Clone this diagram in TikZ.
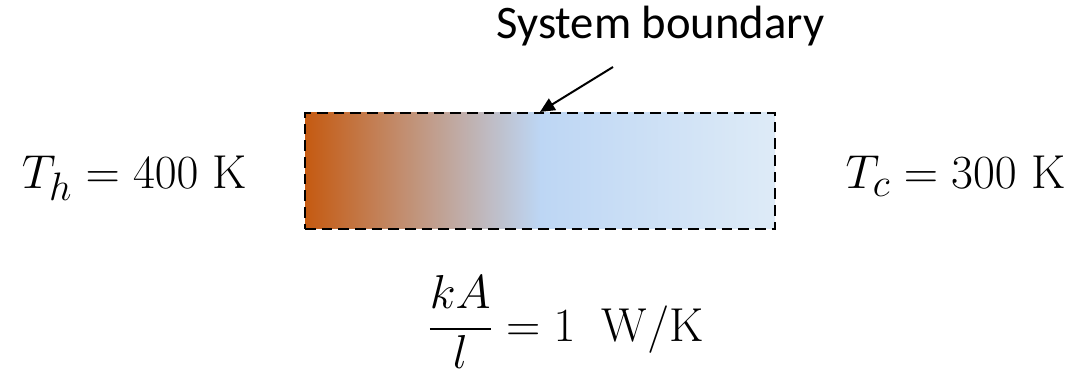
\documentclass[tikz,border=0pt]{standalone}
\usepackage{amsmath}
\usepackage{graphicx}
\usepackage{fontspec}
\newfontfamily\calibri{Carlito}
\usetikzlibrary{arrows.meta}
\definecolor{hotc}{RGB}{197,90,17}
\definecolor{midc}{RGB}{189,214,244}
\definecolor{coldc}{RGB}{222,235,247}
\pgfdeclarehorizontalshading{barshade}{100bp}{color(0bp)=(hotc); color(25bp)=(hotc); color(50bp)=(midc); color(75bp)=(coldc); color(100bp)=(coldc)}
\newcommand{\bigmath}[1]{\scalebox{1.435}{\Huge #1}}
\tikzset{
  mathtxt/.style={inner sep=0pt},
  titletxt/.style={inner sep=0pt, font=\calibri\fontsize{35}{42}\selectfont},
  boundary/.style={draw=black, line width=1.6pt, dash pattern=on 8pt off 4.5pt, shading=barshade, inner sep=0pt, minimum width=352.5pt, minimum height=87pt},
  pointer/.style={draw=black, line width=1.5pt, -{Triangle[length=11pt,width=10pt]}}
}
\begin{document}
\begin{tikzpicture}[x=0.75pt, y=-0.75pt]
\useasboundingbox (0,0) rectangle (1079,374);
\node[boundary] (box) at (540,171) {};
\node[titletxt, anchor=base] (title) at (660.5,39) {System boundary};
\coordinate (tail) at (613,67);
\draw[pointer] (tail) -- (box.north);
\node[mathtxt, anchor=base] (th) at (134.5,189) {\bigmath{$T_h = 400\ \mathrm{K}$}};
\node[mathtxt, anchor=base] (tc) at (955.5,189) {\bigmath{$T_c = 300\ \mathrm{K}$}};
\node[mathtxt, anchor=base] (kal) at (565.5,341) {\bigmath{$\dfrac{kA}{\raisebox{3pt}{$l$}} = 1\;\;\mathrm{W/K}$}};
\end{tikzpicture}
\end{document}
